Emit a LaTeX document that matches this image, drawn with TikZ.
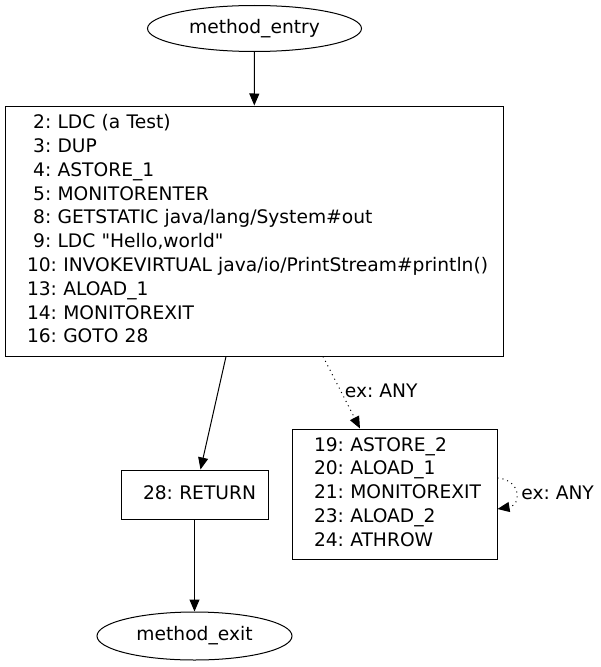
\documentclass[tikz,border=0pt]{standalone}
\usepackage{fontspec}
\setmainfont{DejaVu Sans}[Ligatures=TeXOff]
\usetikzlibrary{arrows.meta, shapes.geometric, calc}
\frenchspacing

\begin{document}
\begin{tikzpicture}[x=0.75pt, y=-0.75pt, line width=0.75pt,
  >={Triangle[length=9pt, width=7.5pt]},
  every node/.style={font=\fontsize{14}{17.85}\selectfont},
  term/.style={draw, ellipse, inner sep=0pt},
  block/.style={draw, rectangle, inner xsep=16.5pt, inner ysep=0pt},
  exedge/.style={->, dash pattern=on 0.75pt off 3pt},
  exlabel/.style={inner sep=0pt}]
  \useasboundingbox (0,0) rectangle (600,667);

  \node[term, minimum width=160.5pt, minimum height=34.5pt] (entry) at (254.5,28.5) {method\_entry};
  \node[block, text width=340.5pt, minimum height=187.5pt] (block) at (254,231) {%
    \begin{tabular}{@{}l@{}}
      \ 2: LDC (a Test)\\
      \ 3: DUP\\
      \ 4: ASTORE\_1\\
      \ 5: MONITORENTER\\
      \ 8: GETSTATIC java/lang/System\#out\\
      \ 9: LDC "Hello,world"\\
      10: INVOKEVIRTUAL java/io/PrintStream\#println()\\
      13: ALOAD\_1\\
      14: MONITOREXIT\\
      16: GOTO 28
    \end{tabular}};
  \node[block, text width=77.25pt, minimum height=36.75pt] (ret) at (194.5,494.5) {%
    \begin{tabular}{@{}l@{}}28: RETURN\end{tabular}};
  \node[block, text width=120.75pt, minimum height=97.5pt] (exc) at (394.5,494) {%
    \begin{tabular}{@{}l@{}}
      19: ASTORE\_2\\
      20: ALOAD\_1\\
      21: MONITOREXIT\\
      23: ALOAD\_2\\
      24: ATHROW
    \end{tabular}};
  \node[term, minimum width=146.25pt, minimum height=36pt] (exit) at (194.5,636) {method\_exit};

  \draw[->] (entry) -- (block);
  \draw[->] ($(block.south)+(-28,0)$) -- ($(ret.north)+(6,0)$);
  \draw[->] (ret) -- (exit);
  \draw[exedge] ($(block.south)+(69,0)$) -- ($(exc.north)+(-34.5,0)$)
    node[exlabel, pos=.47, right=3pt] {ex: ANY};
  \draw[exedge] ($(exc.east)+(0,-16)$) .. controls +(24,2) and +(24,-4) .. ($(exc.east)+(0,15)$)
    node[exlabel, pos=.5, right=4pt] {ex: ANY};
\end{tikzpicture}
\end{document}
